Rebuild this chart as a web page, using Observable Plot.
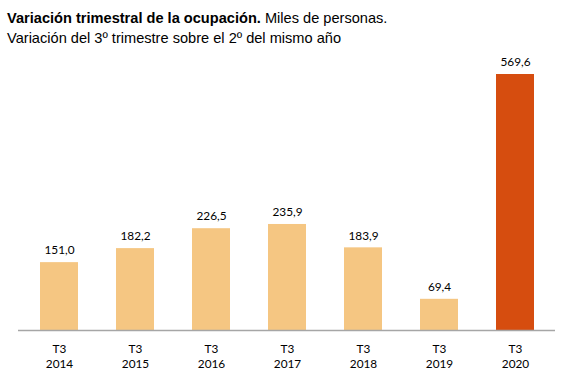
<!DOCTYPE html>
<html>
<head>
<meta charset="utf-8">
<script src="https://cdn.jsdelivr.net/npm/d3@7"></script>
<script src="https://cdn.jsdelivr.net/npm/@observablehq/plot@0.6"></script>
<style>
  body { margin: 0; background: #fff; width: 581px; height: 384px; overflow: hidden; }
  #title { font-family: "Liberation Sans", Arial, sans-serif; font-size: 14.6px; line-height: 20px; color: #000; padding: 8px 0 0 7px; height: 40px; white-space: nowrap; }
  #title b { font-weight: bold; }
  svg { display: block; }
</style>
</head>
<body>
<div id="title"><b>Variación trimestral de la ocupación.</b> Miles de personas.<br>Variación del 3º trimestre sobre el 2º del mismo año</div>
<div id="chart"></div>
<script>
const quarters = ["T3", "T3", "T3", "T3", "T3", "T3", "T3"];
const years = ["2014", "2015", "2016", "2017", "2018", "2019", "2020"];
const values = [151.0, 182.2, 226.5, 235.9, 183.9, 69.4, 569.6];
const highlight = [false, false, false, false, false, false, true];

const data = years.map((y, i) => ({
  key: quarters[i] + "\n" + y,
  value: values[i],
  hl: highlight[i]
}));

const fmt = v => v.toFixed(1).replace(".", ",");

const chart = Plot.plot({
  width: 581,
  height: 336,
  marginLeft: 18,
  marginRight: 26,
  marginTop: 26,
  marginBottom: 54,
  style: { fontFamily: "Lato, sans-serif", background: "#fff" },
  x: { domain: data.map(d => d.key), paddingInner: 0.5, paddingOuter: 0.25, label: null },
  y: { domain: [0, 569.6], axis: null },
  marks: [
    Plot.barY(data, { x: "key", y: "value", fill: d => d.hl ? "#D64D0F" : "#F5C682" }),
    Plot.ruleY([0], { stroke: "#A6A6A6", strokeWidth: 1.5 }),
    Plot.text(data, { x: "key", y: "value", text: d => fmt(d.value), dy: -12, fontSize: 11.8, fill: "#000" }),
    Plot.axisX({ tickSize: 0, tickPadding: 12, fontSize: 11.8, lineHeight: 1.27, fill: "#000", label: null })
  ]
});
document.getElementById("chart").appendChild(chart);
</script>
</body>
</html>
